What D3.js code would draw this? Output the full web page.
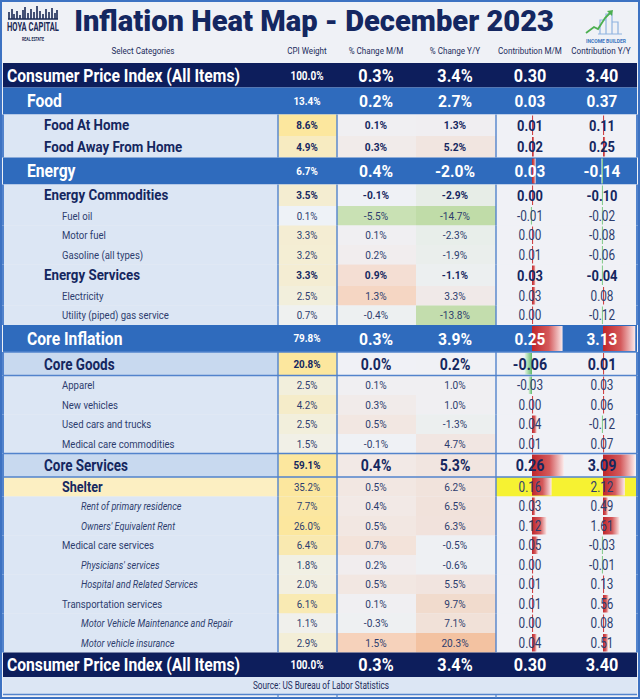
<!DOCTYPE html>
<html><head><meta charset="utf-8">
<script src="https://cdn.jsdelivr.net/npm/d3@7"></script>
<style>
body{margin:0;background:#ffffff;}
svg{display:block;}
text{font-family:Roboto,"Liberation Sans",Arial,sans-serif;}
</style></head><body>
<svg id="chart" width="640" height="699"></svg>
<script>
// ---------- DATA ----------
const titleText = "Inflation Heat Map - December 2023";
const sourceText = "Source: US Bureau of Labor Statistics";
const columnHeaders = ["Select Categories","CPI Weight","% Change M/M","% Change Y/Y","Contribution M/M","Contribution Y/Y"];
const categories = [
  "Consumer Price Index (All Items)","Food","Food At Home","Food Away From Home",
  "Energy","Energy Commodities","Fuel oil","Motor fuel","Gasoline (all types)",
  "Energy Services","Electricity","Utility (piped) gas service",
  "Core Inflation","Core Goods","Apparel","New vehicles","Used cars and trucks","Medical care commodities",
  "Core Services","Shelter","Rent of primary residence","Owners' Equivalent Rent",
  "Medical care services","Physicians' services","Hospital and Related Services",
  "Transportation services","Motor Vehicle Maintenance and Repair","Motor vehicle insurance",
  "Consumer Price Index (All Items)"
];
const rowTypes = [
  "total","major","sub","sub",
  "major","sub","item","item","item",
  "sub","item","item",
  "major","group","item","item","item","item",
  "group","shelter","italic","italic",
  "item","italic","italic",
  "item","italic","italic",
  "total"
];
const cpiWeights = [100.0,13.4,8.6,4.9,6.7,3.5,0.1,3.3,3.2,3.3,2.5,0.7,79.8,20.8,2.5,4.2,2.5,1.5,59.1,35.2,7.7,26.0,6.4,1.8,2.0,6.1,1.1,2.9,100.0];
const changeMM  = [0.3,0.2,0.1,0.3,0.4,-0.1,-5.5,0.1,0.2,0.9,1.3,-0.4,0.3,0.0,0.1,0.3,0.5,-0.1,0.4,0.5,0.4,0.5,0.7,0.2,0.5,0.1,-0.3,1.5,0.3];
const changeYY  = [3.4,2.7,1.3,5.2,-2.0,-2.9,-14.7,-2.3,-1.9,-1.1,3.3,-13.8,3.9,0.2,1.0,1.0,-1.3,4.7,5.3,6.2,6.5,6.3,-0.5,-0.6,5.5,9.7,7.1,20.3,3.4];
const contribMM = [0.30,0.03,0.01,0.02,0.03,0.00,-0.01,0.00,0.01,0.03,0.03,0.00,0.25,-0.06,-0.03,0.00,0.04,0.01,0.26,0.16,0.03,0.12,0.05,0.00,0.01,0.01,0.00,0.04,0.30];
const contribYY = [3.40,0.37,0.11,0.25,-0.14,-0.10,-0.02,-0.08,-0.06,-0.04,0.08,-0.12,3.13,0.01,0.03,0.06,-0.12,0.07,3.09,2.12,0.49,1.61,-0.03,-0.01,0.13,0.56,0.08,0.51,3.40];
const barlessCategories = ["Food"];

// ---------- STYLE / LAYOUT ----------
const C = {
  navy:"#0d1e5c", blue:"#2f6bbd", frame:"#3d72c2", line:"#5283cc",
  bg:"#eff1f6", labelBg:"#dce6f4", groupBg:"#c8d9ef", cellBg:"#f0f1f6",
  text:"#15275f", itemText:"#2d3d6e", shelterLabel:"#fcefc2", shelterHi:"#f6f232",
  peachMM:"#f6d2bb", greenMM:"#c9e1b4", peachYY:"#f3c2a1", greenYY:"#c0dca8",
  yellow:"#fce79e", pale:"#eef2f8",
  red:"#c0262b", barGreen:"#5fba6a"
};
const rowH = {total:24.5, major:27, sub:21.5, group:23.5, shelter:19.5, item:19.5, italic:19.5};
const cols = {label:[3,278], weight:[278,337], mm:[337,416], yy:[416,496], cmm:[496,566], cyy:[566,637]};
const colCenter = {weight:307, mm:376, yy:455, cmm:530, cyy:602};
const tableTop = 63;

const labelStyle = {
  total:{x:7,size:18,w:700,fill:"#fff",f:.87},
  major:{x:27,size:18,w:700,fill:"#fff",f:.87},
  sub:{x:44,size:14,w:700,fill:C.text,f:.95},
  group:{x:44,size:16,w:700,fill:C.text,f:.84},
  shelter:{x:62,size:14,w:700,fill:C.text,f:.9},
  item:{x:62,size:11.5,w:400,fill:C.itemText,f:.83},
  italic:{x:81,size:11.5,w:400,fill:C.itemText,f:.79,italic:true}
};
const weightStyle = {
  total:{size:12,w:700,fill:"#fff",f:.83}, major:{size:11,w:700,fill:"#fff",f:.9},
  sub:{size:11,w:700,fill:C.text,f:.9}, group:{size:11,w:700,fill:C.text,f:.9},
  shelter:{size:11.5,w:400,fill:C.itemText,f:.85}, item:{size:11.5,w:400,fill:C.itemText,f:.85},
  italic:{size:11.5,w:400,fill:C.itemText,f:.85}
};
const pctStyle = {
  total:{size:18,w:700,fill:"#fff",f:.9}, major:{size:17,w:700,fill:"#fff",f:.92},
  sub:{size:11,w:700,fill:C.text,f:.93}, group:{size:16,w:700,fill:C.text,f:.88},
  shelter:{size:11.5,w:400,fill:C.itemText,f:.88}, item:{size:11.5,w:400,fill:C.itemText,f:.88},
  italic:{size:11.5,w:400,fill:C.itemText,f:.88}
};
const contribStyle = {
  total:{size:18,w:700,fill:"#fff",f:.9}, major:{size:17,w:700,fill:"#fff",f:.9},
  sub:{size:15,w:700,fill:C.text,f:.86}, group:{size:16,w:700,fill:C.text,f:.89},
  shelter:{size:14,w:400,fill:C.itemText,f:.84}, item:{size:14,w:400,fill:C.itemText,f:.84},
  italic:{size:14,w:400,fill:C.itemText,f:.84}
};

const rows = categories.map((name,i)=>({
  name, type:rowTypes[i], weight:cpiWeights[i], mm:changeMM[i], yy:changeYY[i],
  cmm:contribMM[i], cyy:contribYY[i], i
}));
const heights = rows.map(r=>rowH[r.type]);
const cum = d3.cumsum(heights);
rows.forEach((r,i)=>{ r.h = heights[i]; r.y = tableTop + cum[i] - heights[i]; });
const tableBottom = tableTop + cum[cum.length-1];

// ---------- SCALES ----------
const inner = rows.filter(r=>r.type!=="total" && r.type!=="major");
const heatMM = d3.scaleLinear().domain([d3.min(inner,r=>r.mm),0,d3.max(inner,r=>r.mm)]).range([C.greenMM,C.cellBg,C.peachMM]).clamp(true);
const heatYY = d3.scaleLinear().domain([d3.min(inner,r=>r.yy),0,d3.max(inner,r=>r.yy)]).range([C.greenYY,C.cellBg,C.peachYY]).clamp(true);
const heatW = d3.scaleLinear().domain([0,8]).range([C.pale,C.yellow]).clamp(true);
const barMM = d3.scaleLinear().domain([-0.27,0.27]).range([499,565]);
const barYY = d3.scaleLinear().domain([-3.2,3.2]).range([570,636]);

const svg = d3.select("#chart");
const defs = svg.append("defs");
const gR = defs.append("linearGradient").attr("id","gradRed").attr("x1","0").attr("x2","1");
gR.append("stop").attr("offset","0").attr("stop-color",C.red);
gR.append("stop").attr("offset","0.55").attr("stop-color","#d45a5c");
gR.append("stop").attr("offset","1").attr("stop-color","#fbeaea");
const gG = defs.append("linearGradient").attr("id","gradGreen").attr("x1","1").attr("x2","0");
gG.append("stop").attr("offset","0").attr("stop-color",C.barGreen);
gG.append("stop").attr("offset","1").attr("stop-color","#e6f4e6");

function condense(sel){
  sel.each(function(d){
    const f = d3.select(this).attr("data-f");
    const L = this.getComputedTextLength();
    if (L>0 && f) d3.select(this).attr("textLength", L*(+f)).attr("lengthAdjust","spacingAndGlyphs");
  });
}
function styled(sel, st){
  return sel.attr("font-size",st.size).attr("font-weight",st.w).attr("fill",st.fill)
    .attr("font-style",st.italic?"italic":"normal").attr("data-f",st.f).attr("dy","0.36em");
}
// text whose natural width equals `width`, stretched vertically to look like `size`
function fitText(parent, str, cx, baseline, width, size, weight, fill){
  const gg = parent.append("g");
  const t = gg.append("text").attr("x",0).attr("y",0).attr("text-anchor","middle").text(str)
    .attr("font-size",size).attr("font-weight",weight).attr("fill",fill);
  const nat = t.node().getComputedTextLength();
  const fs = size * width / nat;
  t.attr("font-size", fs);
  gg.attr("transform", `translate(${cx},${baseline}) scale(1,${(size/fs).toFixed(3)})`);
  return gg;
}

// ---------- BACKGROUND / HEADER ----------
svg.append("rect").attr("x",0).attr("y",0).attr("width",640).attr("height",699).attr("fill",C.bg);
svg.append("rect").attr("x",1).attr("y",1).attr("width",638).attr("height",697).attr("fill","none").attr("stroke",C.frame).attr("stroke-width",2);

fitText(svg, titleText, 314, 31, 480, 30, 900, "#142761");

// left logo
const logo = svg.append("g");
logo.append("path").attr("d","M8 19 H58 M9 19 V12 M12 19 V9 M14 19 V14 M17 19 V11 M20 19 V15 M23 19 V10 M25 19 V7 M28 19 V13 M31 19 V9 M34 19 V12 M37 19 V6 M40 19 V11 M43 19 V14 M46 19 V9 M49 19 V12 M52 19 V8 M55 19 V13 M57 19 V10")
  .attr("stroke","#1b2a55").attr("stroke-width",1.6).attr("fill","none");
fitText(logo, "HOYA CAPITAL", 33, 31, 52, 12, 700, "#1b2a55");
fitText(logo, "REAL ESTATE", 33, 41, 22, 5.5, 700, "#1b2a55");

// right logo
const rl = svg.append("g");
rl.append("path").attr("d","M600 34 V20 H606 V34 M606 34 V14 H612 V34 M612 34 V22 H618 V34 M598 34 H622")
  .attr("stroke","#8fb3e0").attr("stroke-width",1.2).attr("fill","none");
rl.append("path").attr("d","M586 33 L594 27 L598 29 L605 18 L611 12").attr("stroke","#4caf50").attr("stroke-width",1.8).attr("fill","none");
rl.append("path").attr("d","M607 11 L613 10 L612 16 Z").attr("fill","#4caf50");
fitText(rl, "INCOME BUILDER", 606, 43, 40, 6, 700, "#3b76c0");

// column headers
const headerX = [143, colCenter.weight, colCenter.mm, colCenter.yy, colCenter.cmm, colCenter.cyy-1];
svg.append("g").selectAll("text").data(columnHeaders).join("text")
  .attr("x",(d,i)=>headerX[i]).attr("y",51).attr("text-anchor","middle").attr("dy","0.36em")
  .attr("font-size",9.5).attr("fill","#1c2c5c").attr("data-f",.85).text(d=>d).call(condense);

// ---------- ROWS ----------
const g = svg.append("g");
const rowG = g.selectAll("g.row").data(rows).join("g").attr("class","row");

rowG.each(function(r){
  const s = d3.select(this);
  if (r.type==="total" || r.type==="major") {
    s.append("rect").attr("x",3).attr("y",r.y).attr("width",634).attr("height",r.h)
      .attr("fill", r.type==="total"?C.navy:C.blue);
    return;
  }
  const lb = r.type==="group"?C.groupBg : r.type==="shelter"?C.shelterLabel : C.labelBg;
  s.append("rect").attr("x",cols.label[0]).attr("y",r.y).attr("width",cols.label[1]-cols.label[0]).attr("height",r.h).attr("fill",lb);
  s.append("rect").attr("x",cols.weight[0]).attr("y",r.y).attr("width",cols.weight[1]-cols.weight[0]).attr("height",r.h).attr("fill",heatW(r.weight));
  s.append("rect").attr("x",cols.mm[0]).attr("y",r.y).attr("width",cols.mm[1]-cols.mm[0]).attr("height",r.h).attr("fill",heatMM(r.mm));
  s.append("rect").attr("x",cols.yy[0]).attr("y",r.y).attr("width",cols.yy[1]-cols.yy[0]).attr("height",r.h).attr("fill",heatYY(r.yy));
  s.append("rect").attr("x",cols.cmm[0]).attr("y",r.y).attr("width",cols.cyy[1]-cols.cmm[0]).attr("height",r.h)
    .attr("fill", r.type==="shelter"?C.shelterHi:C.cellBg);
});

// data bars
function addBar(s, r, v, scale){
  const x0 = scale(0), x1 = scale(v);
  let w = Math.abs(x1-x0); if (w<1.6) w = 1.6;
  s.append("rect").attr("x", v>=0 ? x0 : x0-w).attr("y",r.y+1).attr("width",w).attr("height",r.h-2)
    .attr("fill", v>=0 ? "url(#gradRed)" : "url(#gradGreen)");
}
rowG.each(function(r){
  if (r.type==="total" || barlessCategories.includes(r.name)) return;
  const s = d3.select(this);
  addBar(s, r, r.cmm, barMM);
  addBar(s, r, r.cyy, barYY);
});

// grid lines
const lines = svg.append("g").attr("stroke",C.line).attr("fill","none");
rows.forEach(r=>{
  if (r.type==="total" || r.type==="major") return;
  [cols.label[0], cols.weight[0], cols.mm[0], cols.cmm[0], cols.cyy[1]].forEach(x=>{
    lines.append("line").attr("x1",x).attr("x2",x).attr("y1",r.y).attr("y2",r.y+r.h).attr("stroke-width",x===3||x===637?2:1.4);
  });
  if (r.type==="group") {
    lines.append("line").attr("x1",3).attr("x2",637).attr("y1",r.y).attr("y2",r.y).attr("stroke-width",1.4);
    lines.append("line").attr("x1",3).attr("x2",637).attr("y1",r.y+r.h).attr("y2",r.y+r.h).attr("stroke-width",1.4);
  }
});

// texts
const T = svg.append("g");
rows.forEach(r=>{
  const cy = r.y + r.h/2;
  styled(T.append("text").attr("x",labelStyle[r.type].x).attr("y",cy).text(r.name), labelStyle[r.type]);
  styled(T.append("text").attr("x",colCenter.weight).attr("y",cy).attr("text-anchor","middle").text(r.weight.toFixed(1)+"%"), weightStyle[r.type]);
  styled(T.append("text").attr("x",colCenter.mm).attr("y",cy).attr("text-anchor","middle").text(r.mm.toFixed(1)+"%"), pctStyle[r.type]);
  styled(T.append("text").attr("x",colCenter.yy).attr("y",cy).attr("text-anchor","middle").text(r.yy.toFixed(1)+"%"), pctStyle[r.type]);
  styled(T.append("text").attr("x",colCenter.cmm).attr("y",cy).attr("text-anchor","middle").text(r.cmm.toFixed(2)), contribStyle[r.type]);
  styled(T.append("text").attr("x",colCenter.cyy).attr("y",cy).attr("text-anchor","middle").text(r.cyy.toFixed(2)), contribStyle[r.type]);
});
T.selectAll("text").call(condense);

// source row
const sy = tableBottom;
svg.append("rect").attr("x",3).attr("y",sy).attr("width",634).attr("height",17).attr("fill",C.labelBg);
svg.append("line").attr("x1",3).attr("x2",637).attr("y1",sy+17.5).attr("y2",sy+17.5).attr("stroke",C.line).attr("stroke-width",1.4);
[cols.weight[0], cols.mm[0], cols.cmm[0]].forEach(x=>{
  svg.append("line").attr("x1",x).attr("x2",x).attr("y1",sy+18).attr("y2",698).attr("stroke",C.line).attr("stroke-width",1.2);
});
svg.append("text").attr("x",321).attr("y",sy+8.7).attr("dy","0.36em").attr("text-anchor","middle")
  .attr("font-size",10).attr("fill","#1c2c5c").attr("data-f",.82).text(sourceText).call(condense);
</script>
</body></html>
